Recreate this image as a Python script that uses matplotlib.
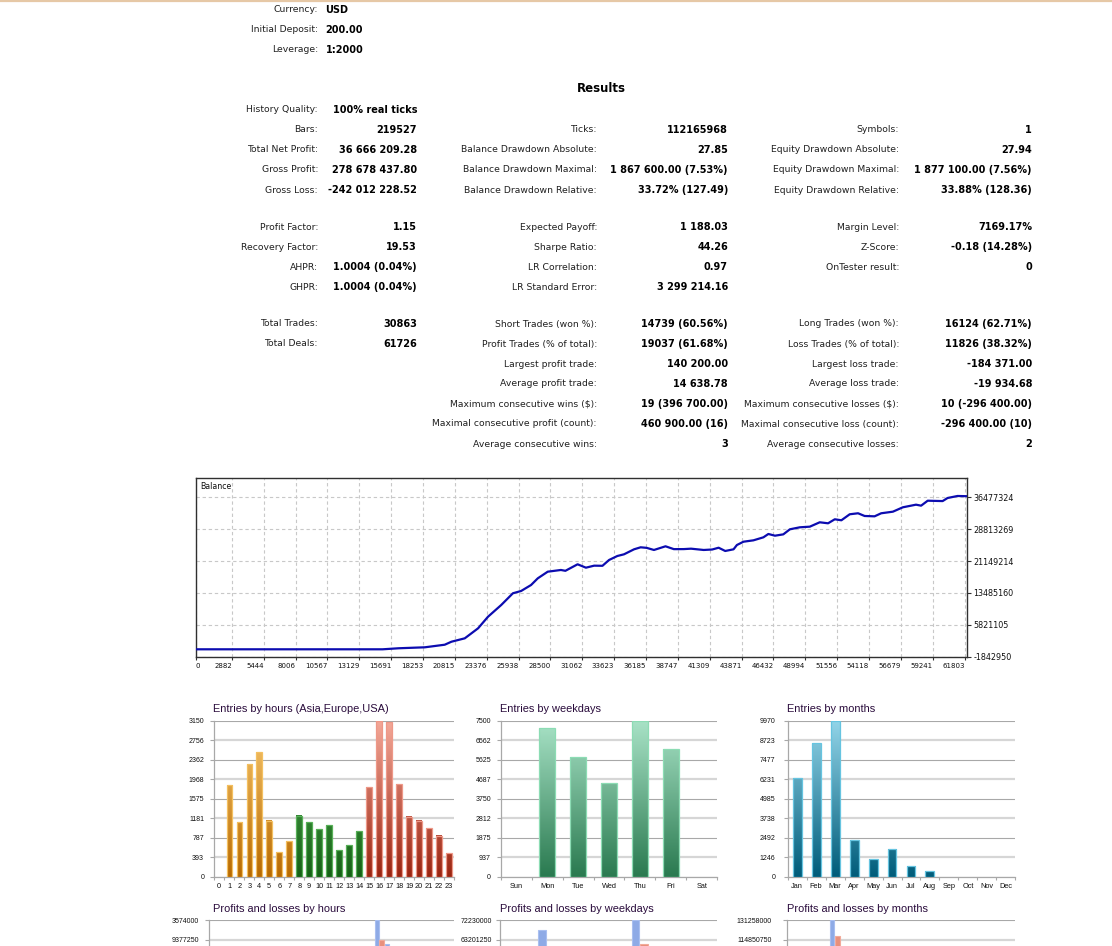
import numpy as np
import matplotlib
matplotlib.use('Agg')
import matplotlib.pyplot as plt
from matplotlib.colors import LinearSegmentedColormap
from matplotlib.lines import Line2D

# ---------------- data ----------------
header_labels = ["Currency:", "Initial Deposit:", "Leverage:"]
header_values = ["USD", "200.00", "1:2000"]

res_a_col1 = [("History Quality:", "100% real ticks"), ("Bars:", "219527"),
              ("Total Net Profit:", "36 666 209.28"), ("Gross Profit:", "278 678 437.80"),
              ("Gross Loss:", "-242 012 228.52")]
res_a_col2 = [None, ("Ticks:", "112165968"), ("Balance Drawdown Absolute:", "27.85"),
              ("Balance Drawdown Maximal:", "1 867 600.00 (7.53%)"),
              ("Balance Drawdown Relative:", "33.72% (127.49)")]
res_a_col3 = [None, ("Symbols:", "1"), ("Equity Drawdown Absolute:", "27.94"),
              ("Equity Drawdown Maximal:", "1 877 100.00 (7.56%)"),
              ("Equity Drawdown Relative:", "33.88% (128.36)")]

res_b_col1 = [("Profit Factor:", "1.15"), ("Recovery Factor:", "19.53"),
              ("AHPR:", "1.0004 (0.04%)"), ("GHPR:", "1.0004 (0.04%)")]
res_b_col2 = [("Expected Payoff:", "1 188.03"), ("Sharpe Ratio:", "44.26"),
              ("LR Correlation:", "0.97"), ("LR Standard Error:", "3 299 214.16")]
res_b_col3 = [("Margin Level:", "7169.17%"), ("Z-Score:", "-0.18 (14.28%)"),
              ("OnTester result:", "0"), None]

res_c_col1 = [("Total Trades:", "30863"), ("Total Deals:", "61726")]
res_c_col2 = [("Short Trades (won %):", "14739 (60.56%)"),
              ("Profit Trades (% of total):", "19037 (61.68%)"),
              ("Largest profit trade:", "140 200.00"),
              ("Average profit trade:", "14 638.78"),
              ("Maximum consecutive wins ($):", "19 (396 700.00)"),
              ("Maximal consecutive profit (count):", "460 900.00 (16)"),
              ("Average consecutive wins:", "3")]
res_c_col3 = [("Long Trades (won %):", "16124 (62.71%)"),
              ("Loss Trades (% of total):", "11826 (38.32%)"),
              ("Largest loss trade:", "-184 371.00"),
              ("Average loss trade:", "-19 934.68"),
              ("Maximum consecutive losses ($):", "10 (-296 400.00)"),
              ("Maximal consecutive loss (count):", "-296 400.00 (10)"),
              ("Average consecutive losses:", "2")]

# balance curve (deal number, balance)
bal_deals = [0, 15000, 16300, 18400, 20000, 20540, 21610, 22680, 23480, 24540,
             25480, 26140, 26940, 27480, 28280, 29340, 29700, 30680, 31350, 32010,
             32680, 33210, 33880, 34410, 35220, 35750, 36230, 36820, 37750, 38420,
             39220, 39800, 40820, 41500, 42020, 42550, 43220, 43490, 44020, 44820,
             45620, 46020, 46550, 47220, 47750, 48550, 49350, 50150, 50820, 51360,
             51890, 52560, 53230, 53760, 54560, 55090, 56030, 56830, 57890, 58300,
             58830, 60030, 60430, 61230, 61950]
bal_values_m = [0.0002, 0.0002, 0.25, 0.48, 1.10, 1.82, 2.63, 5.03, 7.81, 10.61,
                13.42, 13.97, 15.40, 17.00, 18.59, 19.00, 18.80, 20.36, 19.55, 20.03,
                20.00, 21.39, 22.35, 22.75, 23.95, 24.43, 24.30, 23.79, 24.67, 23.99,
                24.00, 24.10, 23.79, 23.90, 24.33, 23.55, 23.95, 24.98, 25.77, 26.10,
                26.82, 27.62, 27.21, 27.53, 28.74, 29.22, 29.37, 30.42, 30.18, 31.14,
                30.90, 32.34, 32.58, 31.93, 31.85, 32.58, 32.96, 34.01, 34.64, 34.40,
                35.59, 35.50, 36.24, 36.72, 36.67]
bal_xticks = [0, 2882, 5444, 8006, 10567, 13129, 15691, 18253, 20815, 23376, 25938,
              28500, 31062, 33623, 36185, 38747, 41309, 43871, 46432, 48994, 51556,
              54118, 56679, 59241, 61803]
bal_yticks = [-1842950, 5821105, 13485160, 21149214, 28813269, 36477324]

hour_labels = ["0", "1", "2", "3", "4", "5", "6", "7", "8", "9", "10", "11", "12",
               "13", "14", "15", "16", "17", "18", "19", "20", "21", "22", "23"]
hour_session = ["asia"] * 8 + ["europe"] * 7 + ["usa"] * 9
hour_entries = [0, 1844, 1104, 2268, 2517, 1131, 491, 720, 1232, 1104, 962, 1037,
                532, 633, 915, 1811, 3150, 3123, 1864, 1212, 1131, 976, 828, 471]
hour_ytick_labels = ["0", "393", "787", "1181", "1575", "1968", "2362", "2756", "3150"]

weekday_labels = ["Sun", "Mon", "Tue", "Wed", "Thu", "Fri", "Sat"]
weekday_entries = [0, 7131, 5737, 4487, 7500, 6122, 0]
weekday_ytick_labels = ["0", "937", "1875", "2812", "3750", "4687", "5625", "6562", "7500"]

month_labels = ["Jan", "Feb", "Mar", "Apr", "May", "Jun", "Jul", "Aug", "Sep", "Oct", "Nov", "Dec"]
month_entries = [6284, 8521, 9970, 2343, 1129, 1747, 660, 341, 0, 0, 0, 0]
month_ytick_labels = ["0", "1246", "2492", "3738", "4985", "6231", "7477", "8723", "9970"]

# profits / losses (only the top of these charts is visible)
hour_profit_m = [0, 16.5, 9.8, 20.1, 22.4, 10.0, 4.3, 6.4, 11.0, 9.8, 8.5, 9.2,
                 4.7, 5.6, 8.1, 16.1, 33.574, 28.42, 16.6, 10.8, 10.0, 8.7, 7.4, 4.2]
hour_loss_m = [0, 14.3, 8.6, 17.6, 19.5, 8.8, 3.8, 5.6, 9.6, 8.6, 7.5, 8.0,
               4.1, 4.9, 7.1, 14.0, 29.2, 24.2, 14.5, 9.4, 8.8, 7.6, 6.4, 3.7]
hour_pl_ytick_labels = ["0", "4196750", "8393500", "2590250", "6787000", "0983750",
                        "5180500", "9377250", "3574000"]
hour_pl_ymax = 33574000

weekday_profit_m = [0, 67.55, 51.0, 40.0, 72.23, 48.0, 0]
weekday_loss_m = [0, 58.0, 44.0, 35.0, 61.14, 43.9, 0]
weekday_pl_ytick_labels = ["0", "9028750", "18057500", "27086250", "36115000",
                           "45143750", "54172500", "63201250", "72230000"]
weekday_pl_ymax = 72230000

month_profit_m = [55.0, 65.0, 131.258, 14.0, 5.0, 6.0, 1.5, 0.8, 0, 0, 0, 0]
month_loss_m = [45.0, 55.0, 117.66, 13.0, 4.5, 5.5, 1.0, 0.5, 0, 0, 0, 0]
month_pl_ytick_labels = ["0", "16407250", "32814500", "49221750", "65629000",
                         "82036250", "98443500", "114850750", "131258000"]
month_pl_ymax = 131258000

# ---------------- figure ----------------
W, H = 1112, 946
fig = plt.figure(figsize=(W / 100, H / 100), dpi=100)
fig.patch.set_facecolor('white')


def fx(x):
    return x / W


def fy(y):
    return 1 - y / H


def axes_px(l, t, r, b):
    return fig.add_axes([l / W, 1 - b / H, (r - l) / W, (b - t) / H])


LABEL_FONT = dict(family='DejaVu Sans', size=6.7, color='#202020')
VALUE_FONT = dict(family='DejaVu Sans', size=7.0, weight='bold', color='#000000')

# top border line
fig.add_artist(Line2D([0, 1], [0.999, 0.999], transform=fig.transFigure,
                      color='#e6c8a6', lw=1.6))


def put_label(x, y, s):
    fig.text(fx(x), fy(y), s, ha='right', va='center', **LABEL_FONT)


def put_value(x, y, s, ha='right'):
    fig.text(fx(x), fy(y), s, ha=ha, va='center', **VALUE_FONT)


# header
for i, (lab, val) in enumerate(zip(header_labels, header_values)):
    y = 10 + 20 * i
    put_label(318, y, lab)
    put_value(325.5, y, val, ha='left')

fig.text(fx(601), fy(88), "Results", ha='center', va='center',
         family='DejaVu Sans', size=8.5, weight='bold', color='#000000')

LAB_X = [318, 597, 899]
VAL_X = [417, 728, 1032]


def put_block(cols, y0):
    for ci, col in enumerate(cols):
        for ri, item in enumerate(col):
            if item is None:
                continue
            y = y0 + 20 * ri
            put_label(LAB_X[ci], y, item[0])
            if item[0] == "History Quality:":
                put_value(333, y, item[1], ha='left')
            else:
                put_value(VAL_X[ci], y, item[1])


put_block([res_a_col1, res_a_col2, res_a_col3], 110)
put_block([res_b_col1, res_b_col2, res_b_col3], 227)
put_block([res_c_col1, res_c_col2, res_c_col3], 324)

# ---------------- balance chart ----------------
axb = axes_px(196, 478, 967, 657)
bal_values = [v * 1e6 for v in bal_values_m]
axb.plot(bal_deals, bal_values, color='#0c0cb0', lw=1.6, zorder=3)
ystep = bal_yticks[-1] - bal_yticks[-2]
axb.set_ylim(bal_yticks[0], bal_yticks[-1] + ystep * 19 / 32)
axb.set_xlim(0, 61990)
axb.set_xticks(bal_xticks)
axb.set_xticklabels([str(v) for v in bal_xticks])
for i, lbl in enumerate(axb.get_xticklabels()):
    lbl.set_ha('left' if i == 0 else 'right')
axb.set_yticks(bal_yticks)
axb.set_yticklabels([str(v) for v in bal_yticks])
axb.yaxis.tick_right()
axb.tick_params(axis='y', direction='out', length=3, width=0.8, labelsize=5.8,
                pad=1.5, color='#303030', labelcolor='#101010')
axb.tick_params(axis='x', direction='out', length=2, width=0.8, labelsize=5.0,
                pad=2.0, color='#303030', labelcolor='#101010')
axb.grid(True, color='#c8c8c8', linestyle=(0, (3, 2.5)), lw=0.8)
for sp in axb.spines.values():
    sp.set_color('#303030')
    sp.set_linewidth(1.0)
axb.text(0.005, 0.975, "Balance", transform=axb.transAxes, ha='left', va='top',
         family='DejaVu Sans', size=5.7, color='#101010')

# ---------------- bar charts ----------------
GRID_DARK = '#a8a8a8'
GRID_LIGHT = '#d6d6d6'


def style_bar_axes(ax, labels, ymax, ytick_labels, ypad):
    n = len(labels)
    ax.set_xlim(-0.5, n - 0.5)
    ax.set_ylim(0, ymax)
    yt = np.linspace(0, ymax, len(ytick_labels))
    for i, v in enumerate(yt):
        if i % 2 == 1:
            ax.axhline(v, color=GRID_LIGHT, lw=1.6, zorder=1)
        else:
            ax.axhline(v, color=GRID_DARK, lw=0.8, zorder=1)
    ax.set_yticks(yt)
    ax.set_yticklabels(ytick_labels)
    ax.set_xticks(np.arange(n))
    ax.set_xticklabels(labels)
    ax.set_xticks(np.arange(n + 1) - 0.5, minor=True)
    ax.tick_params(axis='y', length=3.0, width=0.8, color=GRID_DARK, labelsize=5.0,
                   pad=ypad, labelcolor='#101010')
    ax.tick_params(axis='x', which='major', length=0, labelsize=5.3, pad=4.5,
                   labelcolor='#101010')
    ax.tick_params(axis='x', which='minor', length=2.5, width=0.8, color=GRID_DARK)
    for lbl in ax.get_xticklabels() + ax.get_yticklabels():
        lbl.set_family('Liberation Sans')
    for s in ['top', 'right']:
        ax.spines[s].set_visible(False)
    for s in ['left', 'bottom']:
        ax.spines[s].set_color(GRID_DARK)
        ax.spines[s].set_linewidth(0.9)
    ax.set_facecolor('none')
    return yt


def gradient_bars(ax, xs, vals, width, ymax, grads, edges):
    bars = ax.bar(xs, vals, width=width, facecolor='none', edgecolor=edges,
                  linewidth=0.9, zorder=4)
    for b, (c_bot, c_top) in zip(bars, grads):
        h = b.get_height()
        if h <= 0:
            b.set_visible(False)
            continue
        x0, w = b.get_x(), b.get_width()
        cmap = LinearSegmentedColormap.from_list('g', [c_bot, c_top])
        grad = np.linspace(0, h / ymax, 64).reshape(-1, 1)
        ax.imshow(grad, extent=(x0, x0 + w, 0, h), origin='lower', cmap=cmap,
                  vmin=0, vmax=1, aspect='auto', zorder=3, interpolation='bilinear')


def chart_title(x, y, s):
    fig.text(fx(x), fy(y), s, ha='left', va='center', family='Liberation Sans',
             size=7.9, color='#2a0c3c')


SESSION_GRAD = {"asia": ('#b86a00', '#f8c870'),
                "europe": ('#156015', '#5cb85c'),
                "usa": ('#9a2410', '#f4a898')}
SESSION_EDGE = {"asia": '#f4c060', "europe": '#58b058', "usa": '#ee9888'}

# hours
ax_h = axes_px(214.3, 720.7, 454, 876.7)
h_ymax = float(hour_ytick_labels[-1])
style_bar_axes(ax_h, hour_labels, h_ymax, hour_ytick_labels, 4.3)
gradient_bars(ax_h, np.arange(len(hour_labels)), hour_entries, 0.55, h_ymax,
              [SESSION_GRAD[s] for s in hour_session],
              [SESSION_EDGE[s] for s in hour_session])
ax_h.set_xlim(-0.5, len(hour_labels) - 0.5)
ax_h.set_ylim(0, h_ymax)
chart_title(213, 709, "Entries by hours (Asia,Europe,USA)")

# weekdays
ax_w = axes_px(500.7, 720.7, 717.3, 876.7)
w_ymax = float(weekday_ytick_labels[-1])
style_bar_axes(ax_w, weekday_labels, w_ymax, weekday_ytick_labels, 4.0)
gradient_bars(ax_w, np.arange(len(weekday_labels)), weekday_entries, 0.5, w_ymax,
              [('#2a7a50', '#a8e2c6')] * len(weekday_labels),
              ['#8cdcb4'] * len(weekday_labels))
ax_w.set_xlim(-0.5, len(weekday_labels) - 0.5)
ax_w.set_ylim(0, w_ymax)
chart_title(499.5, 709, "Entries by weekdays")

# months
ax_m = axes_px(787.7, 720.7, 1015.3, 876.7)
m_ymax = float(month_ytick_labels[-1])
style_bar_axes(ax_m, month_labels, m_ymax, month_ytick_labels, 6.0)
gradient_bars(ax_m, np.arange(len(month_labels)), month_entries, 0.47, m_ymax,
              [('#005c7a', '#92d4e8')] * len(month_labels),
              ['#66c4e0'] * len(month_labels))
ax_m.set_xlim(-0.5, len(month_labels) - 0.5)
ax_m.set_ylim(0, m_ymax)
chart_title(786.7, 709, "Entries by months")

# profits and losses (cut off at the bottom of the page)
BLUE_FACE, BLUE_EDGE = '#8eaae6', '#a9bff0'
RED_FACE, RED_EDGE = '#e8907c', '#f2aa9a'
PL_TOP, PL_BOTTOM = 920, 1076


def pl_chart(l, r, labels, profits_m, losses_m, ymax, ytick_labels, xl, bw, off, ypad, title, tx):
    ax = axes_px(l, PL_TOP, r, PL_BOTTOM)
    yt = style_bar_axes(ax, labels, ymax, ytick_labels, ypad)
    xs = np.arange(len(labels))
    ax.bar(xs - off, [v * 1e6 for v in profits_m], width=bw, color=BLUE_FACE,
           edgecolor=BLUE_EDGE, lw=0.8, zorder=4)
    ax.bar(xs + off, [v * 1e6 for v in losses_m], width=bw, color=RED_FACE,
           edgecolor=RED_EDGE, lw=0.8, zorder=4)
    ax.set_xlim(xl, len(labels) - 0.5)
    ax.set_ylim(0, ymax)
    # the page ends here: labels below the visible part are not shown
    ax.tick_params(axis='x', which='both', labelbottom=False)
    visible_frac = (H - PL_TOP - 6) / (PL_BOTTOM - PL_TOP)
    for lbl, v in zip(ax.get_yticklabels(), yt):
        if v < ymax * (1 - visible_frac):
            lbl.set_visible(False)
    chart_title(tx, 909, title)
    return ax


pl_chart(209.3, 454, hour_labels, hour_profit_m, hour_loss_m, hour_pl_ymax,
         hour_pl_ytick_labels, -1.0, 0.44, 0.23, 4.5, "Profits and losses by hours", 213)
pl_chart(500.0, 717.3, weekday_labels, weekday_profit_m, weekday_loss_m, weekday_pl_ymax,
         weekday_pl_ytick_labels, -0.5, 0.24, 0.14, 2.5, "Profits and losses by weekdays", 499.5)
pl_chart(787.3, 1015.3, month_labels, month_profit_m, month_loss_m, month_pl_ymax,
         month_pl_ytick_labels, -0.5, 0.25, 0.15, 8.0, "Profits and losses by months", 786.7)

fig.savefig('out.png', dpi=100, facecolor='white')
